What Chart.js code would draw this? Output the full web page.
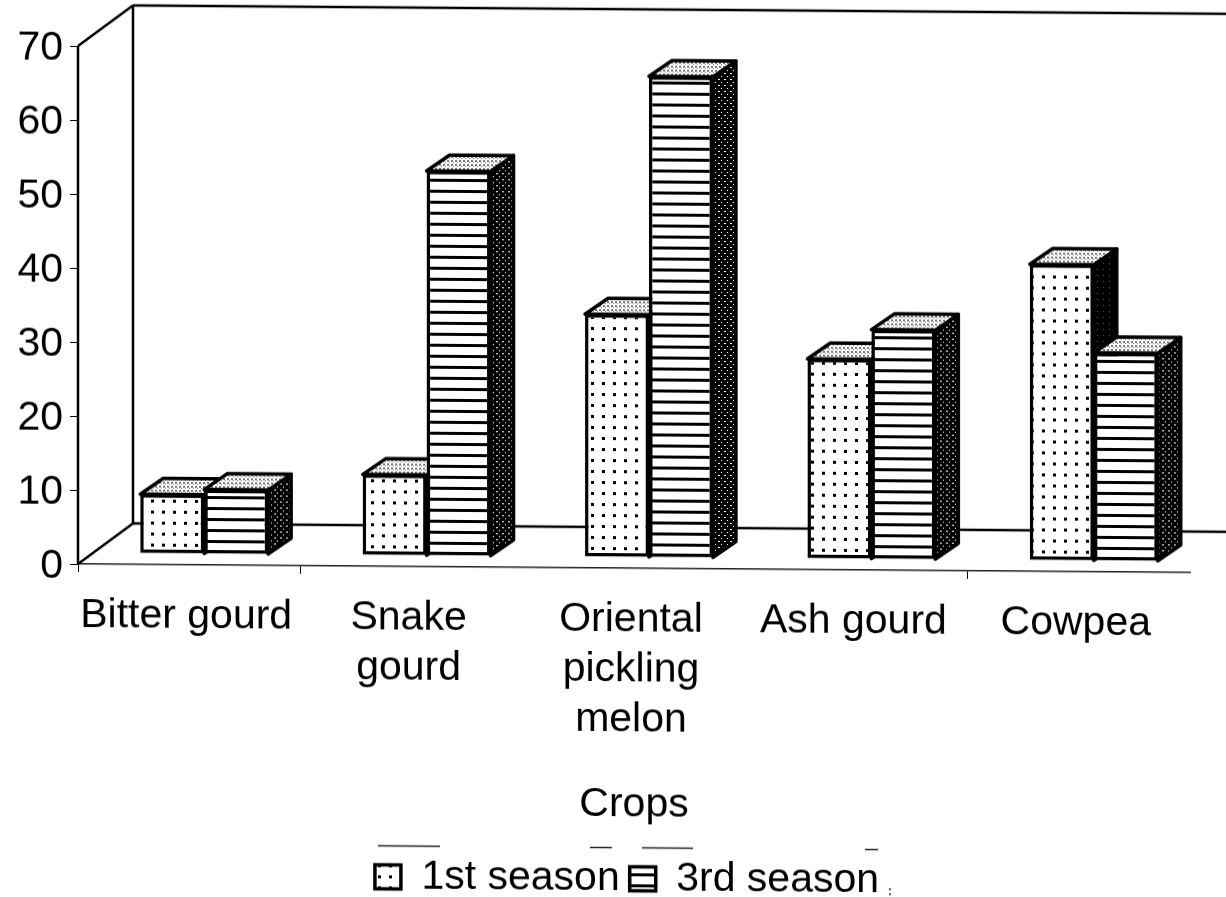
<!DOCTYPE html>
<html>
<head>
<meta charset="utf-8">
<title>Crops</title>
<script src="https://cdn.jsdelivr.net/npm/chart.js@4"></script>
<style>
  html, body { margin: 0; padding: 0; background: #fff; overflow: hidden; }
  /* the scanned figure sags slightly towards the right */
  #chart { display: block; transform-origin: 78px 564px; transform: matrix(1, 0.0077, 0, 1, 0, 0); }
</style>
</head>
<body>
<canvas id="chart" width="1226" height="897"></canvas>
<script>
const categories = ["Bitter gourd", ["Snake", "gourd"], ["Oriental", "pickling", "melon"], "Ash gourd", "Cowpea"];
const season1 = [8, 10.9, 32.8, 27, 40];
const season3 = [8.7, 52, 65, 31, 28.1];
const yTicks = [0, 10, 20, 30, 40, 50, 60, 70];

const WALL_DX = 55, WALL_DY = 41;     // floor depth
const BAR_DX = 15, BAR_DY = 11;       // bars stand inside the floor
const DEPTH_DX = 23, DEPTH_DY = 16;   // bar depth
const FONT = "'Liberation Sans', Arial, sans-serif";

/* ===============================
   SCAN STYLE FILL PATTERNS
   =============================== */
function tile(w, h, paint) {
  const c = document.createElement("canvas");
  c.width = w;
  c.height = h;
  const g = c.getContext("2d");
  g.fillStyle = "#fff";
  g.fillRect(0, 0, w, h);
  g.fillStyle = "#000";
  paint(g);
  return g.createPattern(c, "repeat");
}

const dots = tile(11, 11, g => g.fillRect(4, 4, 3, 3));
const stripes = tile(4, 11, g => g.fillRect(0, 0, 4, 3));
const topDots = tile(4, 4, g => { g.fillStyle = "#777"; g.fillRect(0, 0, 2, 2); g.fillRect(2, 2, 1, 1); });
const sideDark = tile(6, 6, g => { g.fillRect(0, 0, 6, 6); g.fillStyle = "#fff"; g.fillRect(1, 1, 2, 1); g.fillRect(4, 4, 1, 1); });
const sideBlack = tile(6, 6, g => { g.fillRect(0, 0, 6, 6); g.fillStyle = "#555"; g.fillRect(2, 2, 1, 1); });

function face(ctx, pts, fill) {
  ctx.beginPath();
  pts.forEach((p, i) => (i ? ctx.lineTo(p[0], p[1]) : ctx.moveTo(p[0], p[1])));
  ctx.closePath();
  ctx.fillStyle = fill;
  ctx.fill();
  ctx.stroke();
}

function line(ctx, x1, y1, x2, y2) {
  ctx.beginPath();
  ctx.moveTo(x1, y1);
  ctx.lineTo(x2, y2);
  ctx.stroke();
}

const box3d = {
  id: "box3d",
  // move the legend to where the scan has it
  afterLayout(chart) {
    const legend = chart.legend;
    legend.left += 32;
    legend.right += 32;
    legend.top += 8;
    legend.bottom += 8;
  },
  beforeDatasetsDraw(chart) {
    const ctx = chart.ctx;
    const y = chart.scales.y;
    const left = chart.chartArea.left;
    const y0 = y.getPixelForValue(0);
    const y70 = y.getPixelForValue(70);
    ctx.save();
    ctx.strokeStyle = "#000";
    ctx.lineWidth = 2.5;

    // walls and floor edges
    line(ctx, left, y0, left, y70);
    line(ctx, left, y70, left + WALL_DX, y70 - WALL_DY);
    line(ctx, left, y0, left + WALL_DX, y0 - WALL_DY);
    line(ctx, left + WALL_DX, y0 - WALL_DY, left + WALL_DX, y70 - WALL_DY);
    line(ctx, left + WALL_DX, y70 - WALL_DY, chart.width, y70 - WALL_DY);
    line(ctx, left + WALL_DX, y0 - WALL_DY, chart.width, y0 - WALL_DY);

    // depth faces of both series, all under the front faces
    ctx.translate(BAR_DX, -BAR_DY);
    ctx.lineWidth = 3.5;
    ctx.lineJoin = "round";
    [0, 1].forEach(index => {
      const side = index === 0 ? sideBlack : sideDark;
      chart.getDatasetMeta(index).data.forEach(bar => {
        const l = bar.x - bar.width / 2;
        const r = bar.x + bar.width / 2;
        face(ctx, [[r, bar.y], [r + DEPTH_DX, bar.y - DEPTH_DY], [r + DEPTH_DX, bar.base - DEPTH_DY], [r, bar.base]], side);
        face(ctx, [[l, bar.y], [r, bar.y], [r + DEPTH_DX, bar.y - DEPTH_DY], [l + DEPTH_DX, bar.y - DEPTH_DY]], topDots);
      });
    });
    ctx.restore();
  },
  beforeDatasetDraw(chart) {
    chart.ctx.save();
    chart.ctx.translate(BAR_DX, -BAR_DY);
  },
  afterDatasetDraw(chart) {
    chart.ctx.restore();
  },
  // broken remains of the legend frame in the scan
  afterDraw(chart) {
    const ctx = chart.ctx;
    ctx.save();
    ctx.strokeStyle = "#222";
    ctx.lineWidth = 1.5;
    [[378, 440], [590, 612], [642, 693], [865, 878]].forEach(s => line(ctx, s[0], 843.5, s[1], 843.5));
    ctx.setLineDash([2, 3]);
    line(ctx, 890, 882, 890, 897);
    ctx.restore();
  }
};

new Chart(document.getElementById("chart"), {
  type: "bar",
  plugins: [box3d],
  data: {
    labels: categories,
    datasets: [
      {
        label: "1st season",
        data: season1,
        backgroundColor: dots,
        borderColor: "#000",
        borderWidth: 3.5,
        borderSkipped: false,
        barPercentage: 1,
        categoryPercentage: 0.575,
        clip: false
      },
      {
        label: "3rd season",
        data: season3,
        backgroundColor: stripes,
        borderColor: "#000",
        borderWidth: 3.5,
        borderSkipped: false,
        barPercentage: 1,
        categoryPercentage: 0.575,
        clip: false
      }
    ]
  },
  options: {
    responsive: false,
    animation: false,
    layout: { padding: { top: 46, right: 36, bottom: 0, left: 0 } },
    plugins: {
      tooltip: { enabled: false },
      legend: {
        position: "bottom",
        labels: {
          color: "#000",
          boxWidth: 26,
          boxHeight: 24,
          padding: 10,
          font: { family: FONT, size: 41 }
        }
      }
    },
    scales: {
      x: {
        afterFit: s => { s.height = 272; },
        grid: {
          drawOnChartArea: false,
          tickLength: 8,
          color: c => ([0, 1, 4].includes(c.index) ? "#000" : "rgba(0,0,0,0)")
        },
        border: { color: "#222", width: 1.5, dash: [50, 30] },
        title: {
          display: true,
          text: "Crops",
          color: "#000",
          padding: { top: 30, bottom: 11 },
          font: { family: FONT, size: 41 }
        },
        ticks: {
          color: "#000",
          maxRotation: 0,
          autoSkip: false,
          padding: 19,
          labelOffset: -3,
          font: { family: FONT, size: 41, lineHeight: 1.22 }
        }
      },
      y: {
        min: 0,
        max: 70,
        afterFit: s => { s.width = 78; },
        afterBuildTicks: s => { s.ticks = yTicks.map(v => ({ value: v })); },
        grid: { drawOnChartArea: false, tickLength: 8, color: "#000" },
        border: { display: false },
        ticks: {
          color: "#000",
          padding: 7,
          labelOffset: 3,
          font: { family: FONT, size: 41 }
        }
      }
    }
  }
});
</script>
</body>
</html>
